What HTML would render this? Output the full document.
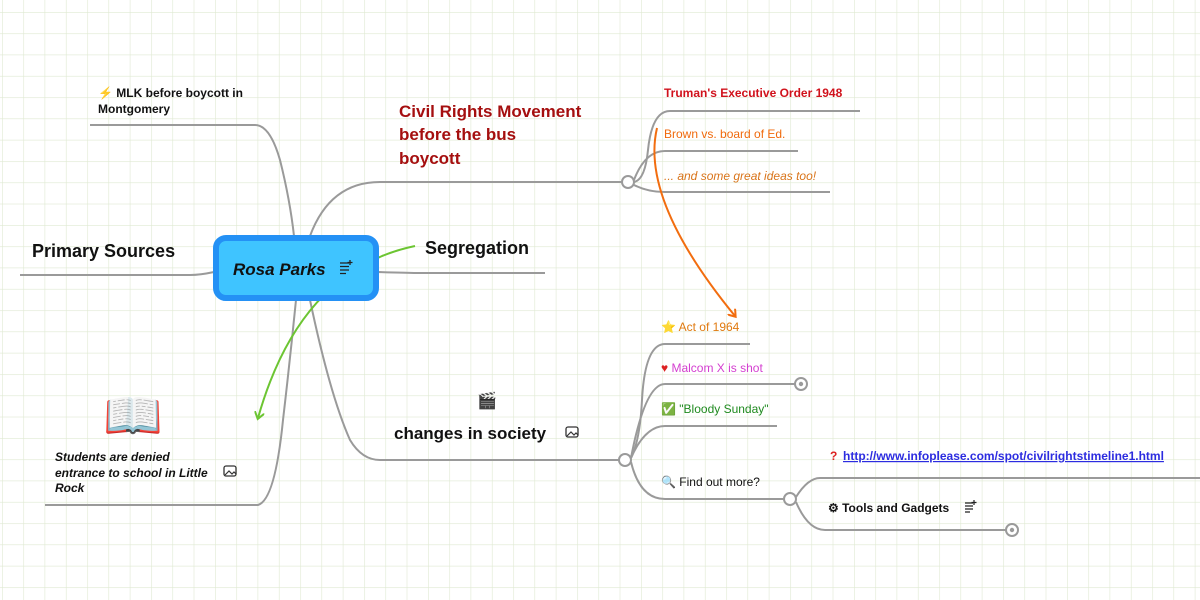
<!DOCTYPE html>
<html><head><meta charset="utf-8"><style>
html,body{margin:0;padding:0;width:1200px;height:600px;overflow:hidden;background:#fff}
svg{display:block}
text{font-family:"Liberation Sans",sans-serif}
</style></head><body>
<svg width="1200" height="600" viewBox="0 0 1200 600" xmlns="http://www.w3.org/2000/svg">
<defs>
<pattern id="g" x="2" y="12" width="21.3" height="21.3" patternUnits="userSpaceOnUse">
<path d="M0 0H21.3M0 0V21.3" stroke="#dfe9d2" stroke-width="1.2" fill="none"/>
</pattern>
<marker id="ao" markerWidth="10" markerHeight="10" refX="6" refY="5" orient="auto" markerUnits="userSpaceOnUse"><path d="M0 0L7 5L0 10" fill="none" stroke="#f26d0f" stroke-width="2"/></marker>
<marker id="ag" markerWidth="10" markerHeight="10" refX="6" refY="5" orient="auto" markerUnits="userSpaceOnUse"><path d="M0 0L7 5L0 10" fill="none" stroke="#6cc532" stroke-width="2"/></marker>
</defs>
<rect width="1200" height="600" fill="url(#g)"/>
<g fill="none" stroke="#9a9a9a" stroke-width="2">
<path d="M20 275H190Q200 275 214 272"/>
<path d="M90 125H255Q270 125 280 160Q290 200 294 236"/>
<path d="M310 236Q330 182 380 182H622"/>
<path d="M634 182Q645 180 648 150Q652 111 670 111H860"/>
<path d="M634 180Q645 151 665 151H798"/>
<path d="M634 185Q648 192 665 192H830"/>
<path d="M378 272Q410 273 420 273H545"/>
<path d="M310 300Q330 395 350 440Q362 460 380 460H619"/>
<path d="M631 458Q640 440 642 400Q645 344 665 344H750"/>
<path d="M631 458Q645 384 665 384H795"/>
<path d="M631 458Q645 426 665 426H777"/>
<path d="M631 462Q640 499 665 499H784"/>
<path d="M796 497Q808 478 820 478H1200"/>
<path d="M796 502Q808 530 825 530H1006"/>
<path d="M296 300Q290 360 283 420Q275 500 258 505H45"/>
</g>
<g fill="#fff" stroke="#9a9a9a" stroke-width="2">
<circle cx="628" cy="182" r="6"/>
<circle cx="625" cy="460" r="6"/>
<circle cx="790" cy="499" r="6"/>
<circle cx="801" cy="384" r="6"/>
<circle cx="1012" cy="530" r="6"/>
</g>
<circle cx="801" cy="384" r="2.2" fill="#9a9a9a"/>
<circle cx="1012" cy="530" r="2.2" fill="#9a9a9a"/>
<path d="M657 128Q640 200 735 316" fill="none" stroke="#f26d0f" stroke-width="2" marker-end="url(#ao)"/>
<path d="M415 246Q300 270 258 418" fill="none" stroke="#6cc532" stroke-width="2" marker-end="url(#ag)"/>
<rect x="216" y="238" width="160" height="60" rx="10" fill="#3fc4ff" stroke="#2491f5" stroke-width="6"/>
<text x="233" y="275" font-size="17" font-weight="bold" font-style="italic" fill="#111">Rosa Parks</text>
<g stroke="#222" stroke-width="1.3"><path d="M340 263h9M340 266.5h9M340 270h9M340 273.5h6M350 260v5M347.5 262.5h5"/></g>
<text x="32" y="257" font-size="18" font-weight="bold" fill="#111">Primary Sources</text>
<text x="98" y="97" font-size="12" font-weight="bold" fill="#111"><tspan fill="#f5b52a">⚡</tspan> MLK before boycott in</text>
<text x="98" y="113" font-size="12" font-weight="bold" fill="#111">Montgomery</text>
<text font-size="17" font-weight="bold" fill="#a50f0f"><tspan x="399" y="117">Civil Rights Movement</tspan><tspan x="399" y="140">before the bus</tspan><tspan x="399" y="164">boycott</tspan></text>
<text x="664" y="97" font-size="12" font-weight="bold" fill="#d0121b">Truman's Executive Order 1948</text>
<text x="664" y="138" font-size="12" fill="#f06a0c">Brown vs. board of Ed.</text>
<text x="664" y="180" font-size="12" font-style="italic" fill="#d9741a">... and some great ideas too!</text>
<text x="425" y="254" font-size="18" font-weight="bold" fill="#111">Segregation</text>
<text x="477" y="406" font-size="16">🎬</text>
<text x="394" y="439" font-size="17" font-weight="bold" fill="#111">changes in society</text>
<rect x="566" y="427" width="12" height="10" rx="2" fill="none" stroke="#333" stroke-width="1.3"/>
<path d="M567 436l4-4 3 3 2-2 2 2" fill="none" stroke="#333" stroke-width="1.2"/>
<text x="661" y="331" font-size="12" fill="#e07a10"><tspan>⭐</tspan> Act of 1964</text>
<text x="661" y="372" font-size="12" fill="#d43fd0"><tspan fill="#d22">♥</tspan> Malcom X is shot</text>
<text x="661" y="413" font-size="12" fill="#1f8a1f"><tspan>✅</tspan> "Bloody Sunday"</text>
<text x="661" y="486" font-size="12" fill="#111">🔍 Find out more?</text>
<text x="830" y="460" font-size="12" font-weight="bold" fill="#d22">?</text>
<text x="843" y="460" font-size="12" font-weight="bold" fill="#2c2ce0" text-decoration="underline">http://www.infoplease.com/spot/civilrightstimeline1.html</text>
<text x="828" y="512" font-size="12" font-weight="bold" fill="#111">⚙ Tools and Gadgets</text>
<g stroke="#222" stroke-width="1.2"><path d="M965 503h8M965 506h8M965 509h8M965 512h5M974 500v5M971.5 502.5h5"/></g>
<text x="103" y="432" font-size="48">📖</text>
<text font-size="12" font-weight="bold" font-style="italic" fill="#111"><tspan x="55" y="461">Students are denied</tspan><tspan x="55" y="477">entrance to school in Little</tspan><tspan x="55" y="492">Rock</tspan></text>
<rect x="224" y="466" width="12" height="10" rx="2" fill="none" stroke="#333" stroke-width="1.3"/>
<path d="M225 475l4-4 3 3 2-2 2 2" fill="none" stroke="#333" stroke-width="1.2"/>
</svg>
</body></html>
